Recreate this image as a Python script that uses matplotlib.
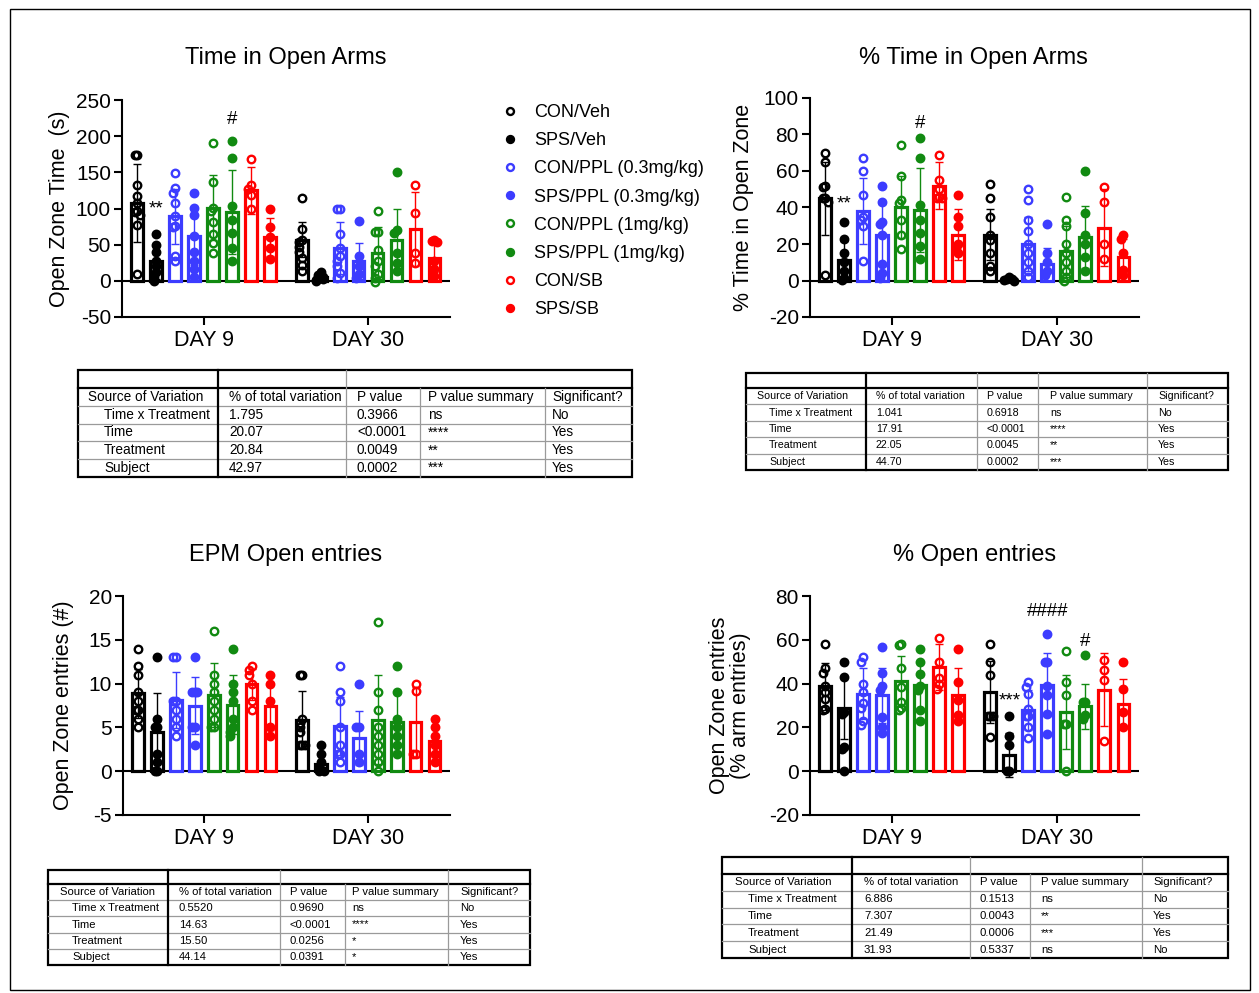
import numpy as np
import matplotlib
matplotlib.use("Agg")
import matplotlib.pyplot as plt
from matplotlib.lines import Line2D
from matplotlib.patches import Rectangle

plt.rcParams['font.family'] = ['Liberation Sans', 'DejaVu Sans']
plt.rcParams['axes.unicode_minus'] = False

groups = ["CON/Veh", "SPS/Veh", "CON/PPL (0.3mg/kg)", "SPS/PPL (0.3mg/kg)",
          "CON/PPL (1mg/kg)", "SPS/PPL (1mg/kg)", "CON/SB", "SPS/SB"]
colors = ["black", "#3c3cff", "#118a11", "#ff0000"]
days = ["DAY 9", "DAY 30"]

# ---- Time in Open Arms (s): 8 groups day 9, then 8 groups day 30
time_mean = [108, 27, 89, 62, 101, 95, 125, 61,
             57, 5, 46, 27, 39, 56, 72, 32]
time_sd = [54, 24, 38, 40, 45, 58, 33, 26,
           24, 4, 36, 25, 36, 43, 51, 20]
time_pts = [[174, 174, 133, 117, 108, 96, 95, 91, 77, 10],
            [65, 50, 40, 28, 20, 12, 5, 0],
            [149, 128, 122, 108, 90, 76, 74, 35, 27],
            [121, 101, 91, 62, 40, 27, 17, 5],
            [190, 136, 101, 97, 81, 65, 52, 38],
            [194, 170, 103, 84, 66, 45, 27],
            [168, 133, 127, 118, 100],
            [100, 75, 60, 45, 30],
            [114, 72, 56, 54, 47, 40, 31, 22, 13],
            [12, 8, 5, 3, 1, 0],
            [100, 100, 65, 46, 34, 27, 20, 11, 4],
            [83, 35, 20, 10, 4],
            [96, 68, 68, 43, 27, 20, 10, 4, -1],
            [150, 70, 66, 38, 24, 13],
            [133, 94, 38, 25],
            [56, 55, 53, 27, 17, 6]]

# ---- % Time in Open Arms
pct_time_mean = [45, 11.5, 38, 25, 40.5, 38.5, 52, 25,
                 25, 1, 20, 9, 16, 24, 29, 13]
pct_time_sd = [20, 10, 18, 17, 17, 23, 13, 14,
               14, 1, 15, 9, 14, 17, 21, 10]
pct_time_pts = [[70, 65, 52, 51, 45, 45, 43, 3],
                [32, 23, 15, 10, 5, 1.5, 0.5],
                [67, 60, 47, 35, 33, 30, 10.5],
                [52, 43, 32, 31, 25, 9, 4, 1.5],
                [74.5, 57, 44, 42.5, 33, 25, 17],
                [78, 67, 41.5, 33, 26, 19, 12],
                [69, 55, 50, 46, 45, 45],
                [47, 35, 30, 20, 18, 15],
                [53, 45, 35, 25, 22, 15, 8, 5],
                [2, 1, 1, 0.5, 0],
                [50, 44, 33, 27, 20, 15, 10, 5, 2],
                [31, 15, 10, 5, 3],
                [46, 33, 30, 20, 15, 10, 5, 2, 0],
                [60, 37, 25, 20, 13, 5],
                [51, 43, 20, 12],
                [25, 23, 15, 6, 3]]

# ---- EPM Open entries (#)
entries_mean = [8.9, 4.5, 8.1, 7.5, 8.7, 7.6, 9.9, 7.4,
                5.9, 0.8, 5.2, 3.8, 5.9, 5.6, 5.6, 3.4]
entries_sd = [2.8, 4.4, 3.2, 3.2, 3.7, 3.4, 1.8, 2.7,
              3.3, 1.0, 3.3, 3.1, 5.1, 3.3, 4.0, 1.8]
entries_pts = [[14, 12, 11, 9, 8, 7, 7, 6, 5],
               [13, 6, 5, 5, 2, 1, 0, 0],
               [13, 13, 8, 8, 7, 6, 5, 4],
               [13, 9, 9, 9, 5, 5, 3],
               [16, 11, 10, 9, 8, 7, 6, 5, 5],
               [14, 10, 9, 8, 6, 5, 4.5, 4],
               [12, 11.5, 11, 10, 8, 7],
               [11, 10, 8, 5, 4],
               [11, 11, 6, 5.5, 5, 4.5, 3, 3, 3],
               [3, 2, 1, 0.5, 0, 0],
               [12, 9, 8, 5, 3, 2, 2, 1],
               [10, 5, 5, 2, 1],
               [17, 9, 7, 5, 4, 3, 2, 1, 0],
               [12, 9, 6, 5, 4, 3, 2],
               [10, 9.2, 2, 2],
               [6, 5, 4, 3, 2, 1]]

# ---- % Open entries
pct_entries_mean = [38.8, 28.9, 35.4, 34.7, 41.2, 39.2, 47.6, 35,
                    36.2, 7.5, 28, 39.5, 27, 29.6, 37.3, 30.8]
pct_entries_sd = [10.7, 14, 11.6, 12.5, 11.3, 11, 10.4, 12,
                  14, 10, 9, 14.5, 17, 10.4, 16.7, 11.2]
pct_entries_pts = [[58, 47, 45, 39, 36, 33, 28.5, 28],
                   [50, 43, 27, 26, 11, 10, 0],
                   [52, 50, 40, 36, 31, 29, 23, 21],
                   [56.5, 45, 38.8, 37, 24.7, 20, 17.4],
                   [58, 57.5, 47, 38.5, 31.6, 29, 27.8],
                   [56, 50, 44.6, 38.8, 37, 27.8, 23],
                   [61, 50, 42.7, 40, 37.7],
                   [55.6, 40.7, 32.4, 25.5, 23],
                   [58, 50, 43.8, 25, 25, 25, 15.6],
                   [25, 16.3, 11.8, 0, 0],
                   [40.8, 38.5, 35.4, 28.5, 25, 25, 20, 15.3],
                   [62.6, 50, 50, 39, 34.6, 26.3, 16.8],
                   [55, 40.8, 34.6, 21.7, 21.7, 0],
                   [53, 31.6, 31.6, 25.5, 24],
                   [50.7, 46, 41.5, 14],
                   [50, 37.7, 27, 20]]

# ---- two-way ANOVA tables
tbl_header = ["Source of Variation", "% of total variation", "P value",
              "P value summary", "Significant?"]
tbl_sources = ["Time x Treatment", "Time", "Treatment", "Subject"]
tbl_time = [["1.795", "0.3966", "ns", "No"], ["20.07", "<0.0001", "****", "Yes"],
            ["20.84", "0.0049", "**", "Yes"], ["42.97", "0.0002", "***", "Yes"]]
tbl_pct_time = [["1.041", "0.6918", "ns", "No"], ["17.91", "<0.0001", "****", "Yes"],
                ["22.05", "0.0045", "**", "Yes"], ["44.70", "0.0002", "***", "Yes"]]
tbl_entries = [["0.5520", "0.9690", "ns", "No"], ["14.63", "<0.0001", "****", "Yes"],
               ["15.50", "0.0256", "*", "Yes"], ["44.14", "0.0391", "*", "Yes"]]
tbl_pct_entries = [["6.886", "0.1513", "ns", "No"], ["7.307", "0.0043", "**", "Yes"],
                   ["21.49", "0.0006", "***", "Yes"], ["31.93", "0.5337", "ns", "No"]]

W, H = 1259, 993
fig = plt.figure(figsize=(W / 100, H / 100), dpi=100)

def ax_px(l, t, r, b):
    return fig.add_axes([l / W, 1 - b / H, (r - l) / W, (b - t) / H])

xpos = np.r_[np.arange(8), np.arange(8) + 8.68]

def spread(vals, tol, step=0.13):
    off = np.zeros(len(vals))
    pattern = [0, -1, 1, -2, 2, -3, 3]
    for i, v in enumerate(vals):
        k = sum(1 for j in range(i) if abs(vals[j] - v) < tol)
        off[i] = pattern[min(k, 6)] * step
    return off

def panel(ax, means, sds, pts, ylim, yticks, ylabel, label_x, annots):
    ax.axhline(0, color='black', lw=1.5, zorder=1)
    tol = 0.025 * (ylim[1] - ylim[0])
    for i in range(16):
        g = i % 8
        c = colors[g // 2]
        filled = g % 2 == 1
        ax.bar(xpos[i], means[i], width=0.62, facecolor='white', edgecolor=c,
               linewidth=2.3, zorder=2)
        ax.errorbar(xpos[i], means[i], yerr=sds[i], fmt='none', ecolor=c,
                    elinewidth=1.0, capsize=3, capthick=1.0, zorder=3)
        v = np.array(pts[i], dtype=float)
        ax.plot(xpos[i] + spread(v, tol), v, 'o', ls='none', ms=5.4,
                mfc=c if filled else 'none', mec=c, mew=1.7, zorder=4)
    for idx, txt, yv in annots:
        ax.text(xpos[idx], yv, txt, ha='center', va='center', fontsize=13.5)
    ax.set_xlim(-0.8, 16.5)
    ax.set_ylim(*ylim)
    ax.set_yticks(yticks)
    ax.set_xticks([3.5, 12.18])
    ax.set_xticklabels(days, fontsize=15.5)
    ax.tick_params(axis='y', labelsize=15, width=1.5, length=6, pad=2)
    ax.tick_params(axis='x', width=1.5, length=6, pad=3)
    for s in ['top', 'right']:
        ax.spines[s].set_visible(False)
    for s in ['left', 'bottom']:
        ax.spines[s].set_linewidth(1.5)
    ax.set_ylabel(ylabel, fontsize=15.5, linespacing=1.0)
    ax.yaxis.set_label_coords(label_x, 0.5)

axA = ax_px(122, 100, 450, 317)
panel(axA, time_mean, time_sd, time_pts, (-50, 250), range(-50, 251, 50),
      "Open Zone Time  (s)", -0.16, [(1, "**", 100), (5, "#", 223)])
axB = ax_px(810, 98, 1139, 317)
panel(axB, pct_time_mean, pct_time_sd, pct_time_pts, (-20, 100), range(-20, 101, 20),
      "% Time in Open Zone", -0.17, [(1, "**", 42), (5, "#", 86)])
axC = ax_px(123, 596, 450, 815)
panel(axC, entries_mean, entries_sd, entries_pts, (-5, 20), range(-5, 21, 5),
      "Open Zone entries (#)", -0.15, [])
axD = ax_px(810, 596, 1139, 815)
panel(axD, pct_entries_mean, pct_entries_sd, pct_entries_pts, (-20, 80), range(-20, 81, 20),
      "Open Zone entries\n(% arm entries)", -0.18,
      [(9, "***", 32), (11, "####", 73), (13, "#", 59)])

# titles
for x, y, t in [(286, 58, "Time in Open Arms"), (973, 58, "% Time in Open Arms"),
                (286, 555, "EPM Open entries"), (975, 555, "% Open entries")]:
    fig.text(x / W, 1 - y / H, t, ha='center', va='center', fontsize=17)

# legend
handles = []
for g in range(8):
    c = colors[g // 2]
    handles.append(Line2D([], [], marker='o', ls='none', ms=5, mew=1.7, mec=c,
                          mfc=c if g % 2 else 'none'))
fig.legend(handles, groups, loc='upper left', bbox_to_anchor=(501 / W, 1 - 104 / H),
           frameon=False, fontsize=13, handlelength=1.0, handletextpad=0.85,
           labelspacing=0.62, borderpad=0, borderaxespad=0)

# overlay for tables and frame
bg = fig.add_axes([0, 0, 1, 1], zorder=-1)
bg.set_xlim(0, W)
bg.set_ylim(H, 0)
bg.axis('off')
bg.add_patch(Rectangle((10, 9), 1240, 981, fill=False, ec='black', lw=1.0))

def draw_table(x0, y0, x1, y1, top_h, vtop, vlines, tx, indent, data, fs):
    bg.add_patch(Rectangle((x0, y0), x1 - x0, y1 - y0, fill=False, ec='black', lw=1.6))
    ytop = y0 + top_h
    bg.plot([x0, x1], [ytop, ytop], color='black', lw=1.6)
    rh = (y1 - ytop) / 5
    for k in range(1, 5):
        bg.plot([x0, x1], [ytop + k * rh] * 2, color='#9a9a9a', lw=0.9)
    for i, vx in enumerate(vlines):
        ys = y0 if vx in vtop else ytop
        bg.plot([vx, vx], [ys, y1], color='black' if i == 0 else '#9a9a9a',
                lw=1.6 if i == 0 else 0.9)
    yc = ytop + rh / 2
    for j, h in enumerate(tbl_header):
        bg.text(tx[j], yc, h, fontsize=fs, va='center', ha='left')
    for r in range(4):
        y = ytop + (r + 1.5) * rh
        bg.text(tx[0] + indent, y, tbl_sources[r], fontsize=fs, va='center', ha='left')
        for j, s in enumerate(data[r]):
            bg.text(tx[j + 1], y, s, fontsize=fs, va='center', ha='left')

draw_table(78, 370, 632, 477, 18, [218, 346], [218, 346, 420, 545],
           [88, 229, 357, 428, 552], 16, tbl_time, 9.8)
draw_table(746, 373, 1228, 470, 15, [866, 977, 1038, 1147], [866, 977, 1038, 1147],
           [757, 876, 987, 1050, 1158], 12, tbl_pct_time, 7.7)
draw_table(48, 870, 530, 965, 14, [168, 280, 448], [168, 280, 345, 448],
           [60, 179, 290, 352, 460], 12, tbl_entries, 8.1)
draw_table(722, 857, 1228, 958, 17, [852, 970, 1142], [852, 970, 1030, 1142],
           [735, 864, 980, 1041, 1153], 13, tbl_pct_entries, 8.2)

fig.savefig("out.png", dpi=100)
